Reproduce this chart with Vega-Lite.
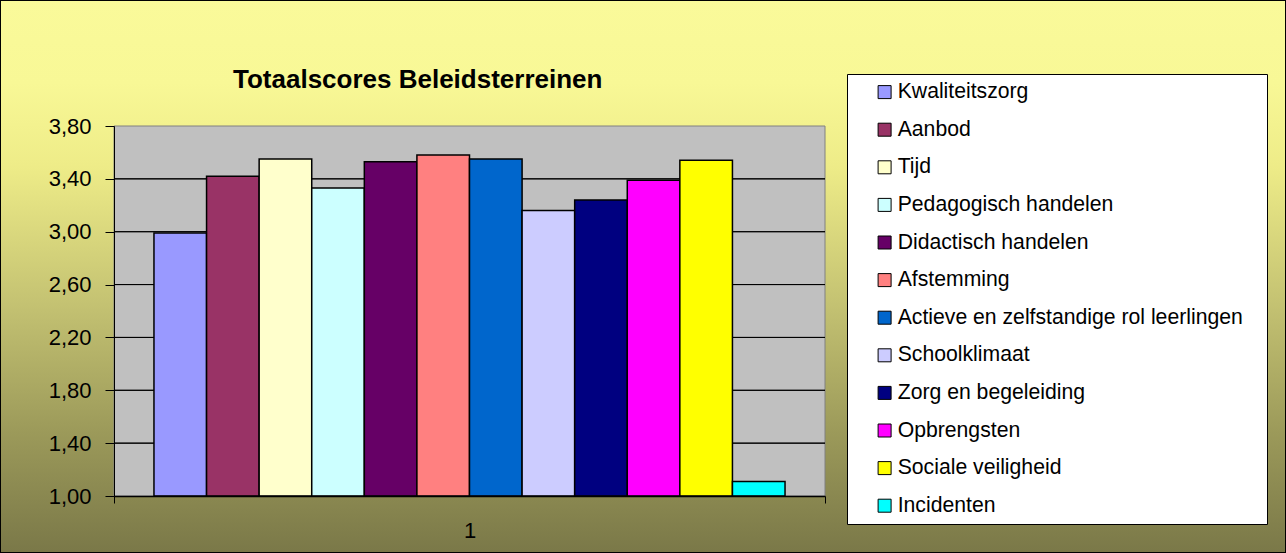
{
  "$schema": "https://vega.github.io/schema/vega-lite/v6.json",
  "width": 1286,
  "height": 553,
  "autosize": {"type": "none"},
  "padding": 0,
  "background": "#7A7848",
  "view": {
    "fill": {
      "gradient": "linear", "x1": 0, "y1": 0, "x2": 0, "y2": 1,
      "stops": [
        {"offset": 0, "color": "#FAFA9A"},
        {"offset": 0.15, "color": "#F8F896"},
        {"offset": 0.3, "color": "#EEEC88"},
        {"offset": 0.55, "color": "#C4C272"},
        {"offset": 0.78, "color": "#9C9A5A"},
        {"offset": 1, "color": "#7A7848"}
      ]
    },
    "stroke": "black",
    "strokeWidth": 2
  },
  "title": {
    "text": "Totaalscores Beleidsterreinen",
    "anchor": "start",
    "frame": "group",
    "offset": 0,
    "dx": 233,
    "dy": 114,
    "baseline": "alphabetic",
    "font": "Liberation Sans",
    "fontSize": 26,
    "fontWeight": "bold",
    "color": "black"
  },
  "config": {"font": "Liberation Sans"},
  "encoding": {
    "x": {
      "field": "cat", "type": "nominal",
      "scale": {"range": [114, 825], "paddingInner": 0, "paddingOuter": 0},
      "axis": {
        "title": null, "orient": "bottom", "offset": -57, "zindex": 1,
        "labelAngle": 0, "labelFontSize": 22, "labelFont": "Liberation Sans", "labelColor": "black",
        "labelPadding": 17, "tickBand": "extent", "tickSize": 7, "tickColor": "black",
        "domainColor": "black", "domainWidth": 1.5, "grid": false
      }
    }
  },
  "layer": [
    {
      "data": {"values": [{"cat": "1"}]},
      "mark": {"type": "rect", "fill": "#C0C0C0", "stroke": "#808080", "strokeWidth": 1},
      "encoding": {
        "y": {
          "datum": 3.8, "type": "quantitative",
          "scale": {"domain": [1, 3.8], "range": [496, 126], "nice": false, "zero": false},
          "axis": {
            "title": null, "orient": "left", "offset": -114, "zindex": 1,
            "values": [1, 1.4, 1.8, 2.2, 2.6, 3.0, 3.4, 3.8],
            "labelExpr": "replace(format(datum.value, '.2f'), '.', ',')",
            "labelFontSize": 22, "labelFont": "Liberation Sans", "labelColor": "black",
            "labelPadding": 14, "tickSize": 9, "tickColor": "black",
            "domainColor": "black", "domainWidth": 1, "grid": false
          }
        },
        "y2": {"datum": 1}
      }
    },
    {
      "data": {"values": [
        {"cat": "1", "g": 1.4}, {"cat": "1", "g": 1.8}, {"cat": "1", "g": 2.2},
        {"cat": "1", "g": 2.6}, {"cat": "1", "g": 3.0}, {"cat": "1", "g": 3.4}
      ]},
      "mark": {"type": "rect", "fill": null, "stroke": "black", "strokeWidth": 1},
      "encoding": {
        "y": {
          "field": "g", "type": "quantitative",
          "scale": {"domain": [1, 3.8], "range": [496, 126], "nice": false, "zero": false},
          "axis": {
            "title": null, "orient": "left", "offset": -114, "zindex": 1,
            "values": [1, 1.4, 1.8, 2.2, 2.6, 3.0, 3.4, 3.8],
            "labelExpr": "replace(format(datum.value, '.2f'), '.', ',')",
            "labelFontSize": 22, "labelFont": "Liberation Sans", "labelColor": "black",
            "labelPadding": 14, "tickSize": 9, "tickColor": "black",
            "domainColor": "black", "domainWidth": 1, "grid": false
          }
        },
        "y2": {"field": "g"}
      }
    },
    {
      "data": {"values": [
        {"cat": "1", "name": "Kwaliteitszorg", "score": 2.99},
        {"cat": "1", "name": "Aanbod", "score": 3.42},
        {"cat": "1", "name": "Tijd", "score": 3.55},
        {"cat": "1", "name": "Pedagogisch handelen", "score": 3.33},
        {"cat": "1", "name": "Didactisch handelen", "score": 3.53},
        {"cat": "1", "name": "Afstemming", "score": 3.58},
        {"cat": "1", "name": "Actieve en zelfstandige rol leerlingen", "score": 3.55},
        {"cat": "1", "name": "Schoolklimaat", "score": 3.16},
        {"cat": "1", "name": "Zorg en begeleiding", "score": 3.24},
        {"cat": "1", "name": "Opbrengsten", "score": 3.39},
        {"cat": "1", "name": "Sociale veiligheid", "score": 3.54},
        {"cat": "1", "name": "Incidenten", "score": 1.11}
      ]},
      "mark": {"type": "bar", "stroke": "black", "strokeWidth": 1.5},
      "encoding": {
        "xOffset": {
          "field": "name", "type": "nominal",
          "scale": {
            "domain": ["Kwaliteitszorg", "Aanbod", "Tijd", "Pedagogisch handelen", "Didactisch handelen", "Afstemming", "Actieve en zelfstandige rol leerlingen", "Schoolklimaat", "Zorg en begeleiding", "Opbrengsten", "Sociale veiligheid", "Incidenten"],
            "paddingInner": 0, "paddingOuter": 0.76
          }
        },
        "y": {
          "field": "score", "type": "quantitative",
          "scale": {"domain": [1, 3.8], "range": [496, 126], "nice": false, "zero": false},
          "axis": {
            "title": null, "orient": "left", "offset": -114, "zindex": 1,
            "values": [1, 1.4, 1.8, 2.2, 2.6, 3.0, 3.4, 3.8],
            "labelExpr": "replace(format(datum.value, '.2f'), '.', ',')",
            "labelFontSize": 22, "labelFont": "Liberation Sans", "labelColor": "black",
            "labelPadding": 14, "tickSize": 9, "tickColor": "black",
            "domainColor": "black", "domainWidth": 1, "grid": false
          }
        },
        "y2": {"datum": 1},
        "color": {
          "field": "name", "type": "nominal",
          "scale": {
            "domain": ["Kwaliteitszorg", "Aanbod", "Tijd", "Pedagogisch handelen", "Didactisch handelen", "Afstemming", "Actieve en zelfstandige rol leerlingen", "Schoolklimaat", "Zorg en begeleiding", "Opbrengsten", "Sociale veiligheid", "Incidenten"],
            "range": ["#9999FF", "#993366", "#FFFFCC", "#CCFFFF", "#660066", "#FF8080", "#0066CC", "#CCCCFF", "#000080", "#FF00FF", "#FFFF00", "#00FFFF"]
          },
          "legend": {
            "orient": "none", "legendX": 847, "legendY": 74,
            "title": "\u00a0", "titleOrient": "right", "titlePadding": 17,
            "fillColor": "white", "strokeColor": "black",
            "padding": 7.5,
            "symbolType": "square", "symbolSize": 169,
            "symbolStrokeColor": "black", "symbolStrokeWidth": 1,
            "symbolOffset": 19.5, "labelOffset": 2.5,
            "labelFontSize": 21.2, "labelFont": "Liberation Sans", "labelColor": "black",
            "labelLimit": 0, "rowPadding": 15.6
          }
        }
      }
    }
  ]
}
